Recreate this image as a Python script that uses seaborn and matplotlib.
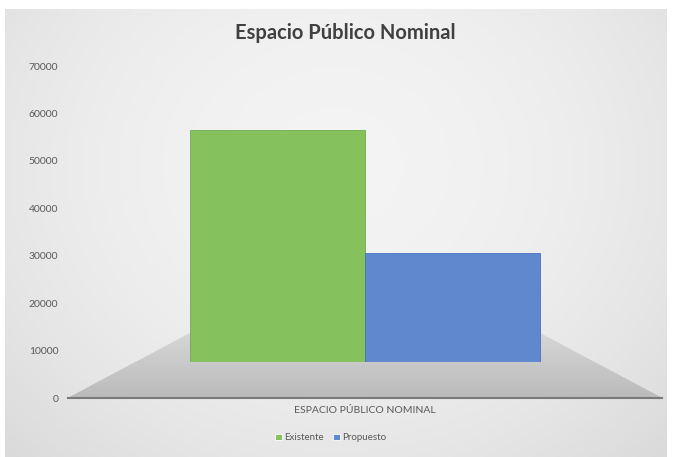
import numpy as np
import pandas as pd
import matplotlib.pyplot as plt
from matplotlib.patches import Polygon
import seaborn as sns

# chart values
categories = ["ESPACIO PÚBLICO NOMINAL"]
series = ["Existente", "Propuesto"]
values = [56500, 30600]
yticks = [0, 10000, 20000, 30000, 40000, 50000, 60000, 70000]
title = "Espacio Público Nominal"

GREEN = "#86c25c"
BLUE = "#5f88cf"

sns.set_theme(style="white")
plt.rcParams["font.family"] = ["Lato", "DejaVu Sans"]

df = pd.DataFrame({
    "categoria": categories * len(series),
    "serie": series,
    "valor": values,
})

fig = plt.figure(figsize=(6.75, 4.57), dpi=100)
fig.patch.set_facecolor("white")

# chart area background (soft gray gradient like the office chart)
bg = fig.add_axes([5 / 675, 0, 662 / 675, 448 / 457])
gx = np.linspace(-1, 1, 200)
gy = np.linspace(-1, 1, 140)
GX, GY = np.meshgrid(gx, gy)
shade = 0.955 - 0.05 * GX ** 2 - 0.03 * (GY + 0.3) ** 2
bg.imshow(np.dstack([shade] * 3), aspect="auto", extent=(0, 1, 0, 1),
          vmin=0, vmax=1, interpolation="bicubic")
bg.set_axis_off()

ax = fig.add_axes([68 / 675, 59 / 457, 594 / 675, 332 / 457])
ax.set_facecolor("none")

sns.barplot(data=df, x="categoria", y="valor", hue="serie",
            palette=[GREEN, BLUE], saturation=1, width=1.18, ax=ax,
            zorder=2, linewidth=0.6)
for bar, ec in zip(ax.patches, ["#74a94f", "#4a6fbf"]):
    bar.set_edgecolor(ec)

ax.set_xlim(-1, 1)
ax.set_ylim(0, 70000)
ax.set_yticks(yticks)
ax.set_yticklabels([str(t) for t in yticks])

# 3D-looking floor: full floor behind the bars, front strip over their base
floor_back = 13700
bar_base = 7600
xl = -0.59
xr = 0.59


def floor_patch(top, z):
    fl = xl + (-1 - xl) * (1 - top / floor_back)
    fr = xr + (1 - xr) * (1 - top / floor_back)
    poly = Polygon([(-1, 0), (fl, top), (fr, top), (1, 0)], closed=True,
                   facecolor="none", edgecolor="none", zorder=z)
    ax.add_patch(poly)
    grad = np.linspace(0.73, 0.84, 100).reshape(-1, 1)
    im = ax.imshow(np.dstack([grad] * 3), aspect="auto", origin="lower",
                   extent=(-1, 1, 0, floor_back), vmin=0, vmax=1, zorder=z)
    im.set_clip_path(poly)


floor_patch(floor_back, 1)
floor_patch(bar_base, 3)
ax.set_xlim(-1, 1)
ax.set_ylim(0, 70000)

for side in ["top", "right", "left"]:
    ax.spines[side].set_visible(False)
ax.spines["bottom"].set_color("#7a7a7a")
ax.spines["bottom"].set_linewidth(1.5)
ax.spines["bottom"].set_zorder(4)

ax.tick_params(axis="y", length=0, pad=7, labelsize=7.5, labelcolor="#595959")
ax.tick_params(axis="x", length=0, pad=6, labelsize=7.5, labelcolor="#595959")
ax.set_xlabel("")
ax.set_ylabel("")

handles, labels = ax.get_legend_handles_labels()
if ax.get_legend() is not None:
    ax.get_legend().remove()
fig.legend(handles, labels, loc="center", bbox_to_anchor=(0.49, 0.042),
           ncol=2, frameon=False, fontsize=7, handlelength=0.7,
           handleheight=0.7, handletextpad=0.2, columnspacing=1.0,
           labelcolor="#595959")

fig.text(0.512, 0.928, title, ha="center", va="center", fontsize=14.5,
         fontweight="bold", color="#404040")

fig.savefig("out.png", dpi=100)
